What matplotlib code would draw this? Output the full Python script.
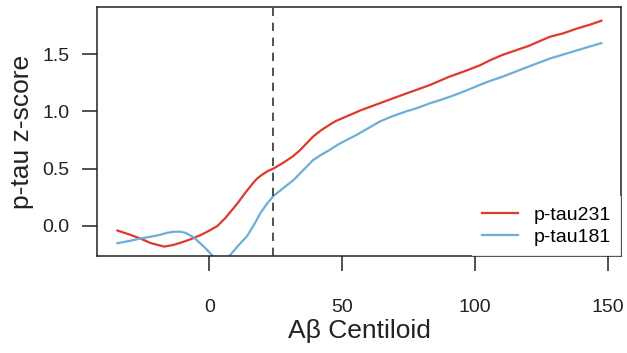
import matplotlib
matplotlib.use('Agg')
import matplotlib.pyplot as plt

plt.rcParams['font.family'] = ['Liberation Sans', 'DejaVu Sans']

# curve values
x231 = [-34.6, -30, -26, -22, -17, -13.5, -10, -7, -3.4, 0, 3, 6, 10.3, 13.5, 16.6, 18, 20,
        22, 24, 26.6, 29, 31.5, 34, 36.5, 39, 42, 45, 47.5, 50, 53.5, 57, 60.5, 64, 67.5,
        71, 74, 77, 80, 83, 86.5, 90, 96, 101.6, 105.5, 110, 115, 120, 124, 128, 133,
        138, 143, 147.4]
y231 = [-0.04, -0.075, -0.11, -0.15, -0.18, -0.165, -0.14, -0.115, -0.08, -0.04, 0.0, 0.07,
        0.19, 0.29, 0.38, 0.415, 0.45, 0.48, 0.50, 0.535, 0.57, 0.61, 0.66, 0.72, 0.78,
        0.835, 0.88, 0.915, 0.94, 0.975, 1.01, 1.04, 1.07, 1.10, 1.13, 1.155, 1.18, 1.205,
        1.23, 1.265, 1.30, 1.35, 1.40, 1.445, 1.49, 1.53, 1.57, 1.61, 1.65, 1.68, 1.72,
        1.755, 1.79]
x181 = [-34.6, -30, -26, -19, -16, -13.4, -11, -9, -5.9, -2.1, 1.6, 4.5, 7.2, 10.5, 14.1,
        17, 19.1, 21.5, 24, 28, 31.6, 35, 39, 42, 45, 48, 51.6, 55, 58, 61, 64, 67.5, 70.4,
        74, 77, 80, 82.9, 87, 92, 97, 101.6, 105.5, 110, 115, 120, 124, 128, 133, 138,
        143, 147.4]
y181 = [-0.15, -0.13, -0.11, -0.08, -0.06, -0.05, -0.05, -0.06, -0.10, -0.18, -0.27, -0.33,
        -0.27, -0.18, -0.09, 0.02, 0.11, 0.19, 0.26, 0.335, 0.40, 0.48, 0.575, 0.62, 0.66,
        0.705, 0.75, 0.79, 0.83, 0.87, 0.91, 0.945, 0.97, 1.0, 1.02, 1.045, 1.07, 1.10,
        1.14, 1.185, 1.23, 1.265, 1.30, 1.345, 1.39, 1.425, 1.46, 1.495, 1.53, 1.565, 1.595]
cutoff = 24
xticks = [0, 50, 100, 150]
yticks = [0.0, 0.5, 1.0, 1.5]

fig = plt.figure(figsize=(6.27, 3.53), dpi=100)
ax = fig.add_axes([97/627, 1 - 256/353, 524/627, 249/353])

ax.plot(x231, y231, color='#E0382A', lw=1.6, label='p-tau231')
ax.plot(x181, y181, color='#6BAED6', lw=1.6, label='p-tau181')
ax.axvline(cutoff, color='#333333', lw=1.2, linestyle=(0, (5, 4)), zorder=3)

ax.set_xlim(-42.3, 154.8)
ax.set_ylim(-0.262, 1.91)
ax.set_xticks(xticks)
ax.set_xticklabels([str(v) for v in xticks])
ax.set_yticks(yticks)
ax.set_yticklabels(['%.1f' % v for v in yticks])
ax.tick_params(axis='both', labelsize=14, length=11, width=1.1, color='#222222',
               labelcolor='#222222')
ax.tick_params(axis='x', pad=20)
ax.tick_params(axis='y', pad=9)
for s in ax.spines.values():
    s.set_linewidth(1.1)
    s.set_color('#222222')

ax.set_xlabel('Aβ Centiloid', fontsize=19, color='#222222', labelpad=2)
ax.set_ylabel('p-tau z-score', fontsize=19, color='#222222', labelpad=6)

leg = ax.legend(loc='lower right', bbox_to_anchor=(1.0, 0.0), borderaxespad=0,
                fontsize=14, frameon=True, facecolor='white', edgecolor='none',
                framealpha=0.85, fancybox=False, handlelength=1.9, handletextpad=0.8,
                labelspacing=0.25, borderpad=0.5)
leg.get_frame().set_linewidth(0)
leg.set_zorder(5)

fig.savefig('out.png', dpi=100)
